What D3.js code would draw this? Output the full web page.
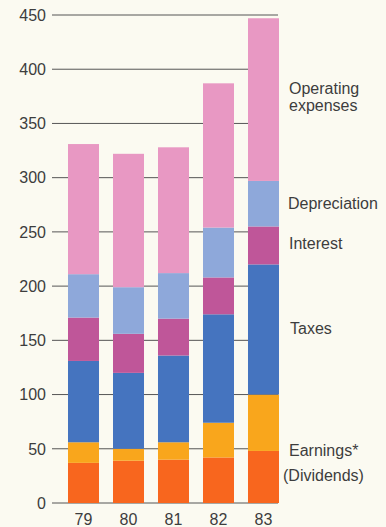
<!DOCTYPE html>
<html>
<head>
<meta charset="utf-8">
<script src="https://cdn.jsdelivr.net/npm/d3@7"></script>
<style>
  html, body { margin: 0; padding: 0; background: #fbfaf1; }
  svg { display: block; }
  text { font-family: "Liberation Sans", Arial, sans-serif; fill: #3d3d3d; }
</style>
</head>
<body>
<svg id="chart" width="386" height="527"></svg>
<script>
// Years shown on the x axis
const years = ["79", "80", "81", "82", "83"];

// Stacked components, bottom to top
const dividends   = [37, 39, 40, 42, 48];
const retained    = [19, 11, 16, 32, 52];
const taxes       = [75, 70, 80, 100, 120];
const interest    = [40, 36, 34, 34, 35];
const depreciation = [40, 43, 42, 46, 42];
const operating   = [120, 123, 116, 133, 150];

const seriesNames = ["Dividends", "Earnings", "Taxes", "Interest", "Depreciation", "Operating expenses"];
const seriesValues = [dividends, retained, taxes, interest, depreciation, operating];
const seriesColors = ["#f8661e", "#f9a61c", "#4574bf", "#bf5699", "#8ea8da", "#e898c3"];

const yTicks = [0, 50, 100, 150, 200, 250, 300, 350, 400, 450];

const svg = d3.select("#chart");

const x = d3.scaleBand()
  .domain(years)
  .range([68, 279])
  .paddingInner(0.311)
  .paddingOuter(0);

const y = d3.scaleLinear()
  .domain([0, 450])
  .range([503, 15]);

// Horizontal grid lines with tick labels
const grid = svg.append("g");
grid.selectAll("line")
  .data(yTicks)
  .join("line")
  .attr("x1", 52)
  .attr("x2", 278)
  .attr("y1", d => y(d))
  .attr("y2", d => y(d))
  .attr("stroke", "#555")
  .attr("stroke-width", 1);

grid.selectAll("text")
  .data(yTicks)
  .join("text")
  .attr("x", 46)
  .attr("y", d => y(d))
  .attr("dy", "0.36em")
  .attr("text-anchor", "end")
  .attr("font-size", 16)
  .text(d => d);

// Build stacked rows
const rows = years.map((yr, i) => {
  const r = { year: yr };
  seriesNames.forEach((n, k) => { r[n] = seriesValues[k][i]; });
  return r;
});
const stack = d3.stack().keys(seriesNames)(rows);

svg.append("g")
  .selectAll("g")
  .data(stack)
  .join("g")
  .attr("fill", (d, k) => seriesColors[k])
  .selectAll("rect")
  .data(d => d)
  .join("rect")
  .attr("x", d => x(d.data.year))
  .attr("width", x.bandwidth())
  .attr("y", d => y(d[1]))
  .attr("height", d => y(d[0]) - y(d[1]));

// Year labels
svg.append("g")
  .selectAll("text")
  .data(years)
  .join("text")
  .attr("x", d => x(d) + x.bandwidth() / 2)
  .attr("y", 525)
  .attr("text-anchor", "middle")
  .attr("font-size", 16)
  .text(d => d);

// Series labels on the right
const labels = [
  { t: "Operating", x: 289, y: 94 },
  { t: "expenses", x: 289, y: 111 },
  { t: "Depreciation", x: 288, y: 209 },
  { t: "Interest", x: 289, y: 249 },
  { t: "Taxes", x: 290, y: 334 },
  { t: "Earnings*", x: 289, y: 456 },
  { t: "(Dividends)", x: 283, y: 481 }
];
svg.append("g")
  .selectAll("text")
  .data(labels)
  .join("text")
  .attr("x", d => d.x)
  .attr("y", d => d.y)
  .attr("font-size", 16)
  .text(d => d.t);
</script>
</body>
</html>
